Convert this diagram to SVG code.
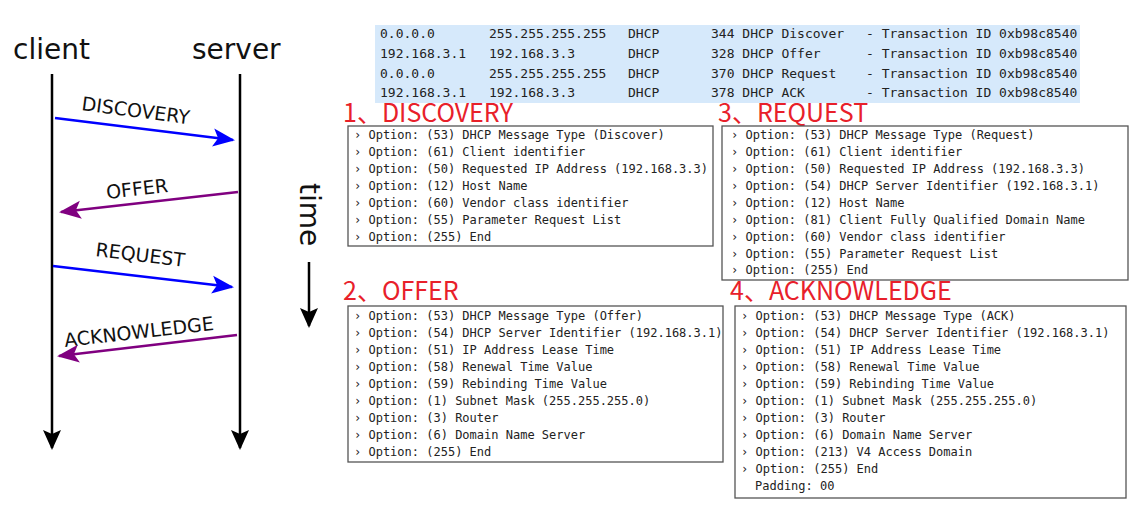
<svg xmlns="http://www.w3.org/2000/svg" width="1131" height="517" viewBox="0 0 1131 517">
<defs>
<style>
.lbl{font-family:"DejaVu Sans",sans-serif;fill:#111}
.big{font-size:28px}
.msg{font-size:19px}
.mono{font-family:"DejaVu Sans Mono",monospace;font-size:12px;fill:#222}
.tbl{font-family:"DejaVu Sans Mono",monospace;font-size:13px;fill:#222}
.hdr{font-family:"Noto Sans CJK SC","Liberation Sans",sans-serif;font-size:25px;fill:#e8202a}
.box{fill:#fff;stroke:#555;stroke-width:1.3}
</style>
<marker id="ab" markerWidth="22" markerHeight="20" refX="20" refY="10" orient="auto" markerUnits="userSpaceOnUse"><path d="M0,1 L22,10 L0,19 L5,10Z" fill="#0000ff"/></marker>
<marker id="ap" markerWidth="22" markerHeight="20" refX="20" refY="10" orient="auto" markerUnits="userSpaceOnUse"><path d="M0,1 L22,10 L0,19 L5,10Z" fill="#800080"/></marker>
<marker id="bk" markerWidth="20" markerHeight="20" refX="18" refY="10" orient="auto" markerUnits="userSpaceOnUse"><path d="M0,1 L20,10 L0,19 L4,10Z" fill="#000"/></marker>
</defs>
<rect width="1131" height="517" fill="#fff"/>
<g id="client"><text class="lbl big" x="13" y="59">client</text></g>
<g id="server"><text class="lbl big" x="192" y="59">server</text></g>
<g id="time"><text class="lbl" font-size="28" transform="translate(300,183) rotate(90)">time</text></g>
<g id="connectors" stroke-width="2.5" fill="none">
<line x1="52" y1="74" x2="52" y2="448" stroke="#000" marker-end="url(#bk)"/>
<line x1="240" y1="74" x2="240" y2="448" stroke="#000" marker-end="url(#bk)"/>
<line x1="309" y1="262" x2="309" y2="326" stroke="#000" marker-end="url(#bk)"/>
<line x1="55" y1="118" x2="233" y2="140" stroke="#0000ff" marker-end="url(#ab)"/>
<line x1="238" y1="192" x2="61" y2="212" stroke="#800080" marker-end="url(#ap)"/>
<line x1="53" y1="266" x2="232" y2="287" stroke="#0000ff" marker-end="url(#ab)"/>
<line x1="237" y1="335" x2="59" y2="356" stroke="#800080" marker-end="url(#ap)"/>
</g>
<g id="msg-labels">
<text class="lbl msg" transform="translate(81,110) rotate(7.5)">DISCOVERY</text>
<text class="lbl msg" transform="translate(107,199) rotate(-6.5)">OFFER</text>
<text class="lbl msg" transform="translate(95,256) rotate(7)">REQUEST</text>
<text class="lbl msg" transform="translate(65,347) rotate(-6.5)">ACKNOWLEDGE</text>
</g>
<g id="table">
<rect x="375" y="25" width="705" height="78" fill="#d6e9fb"/>
<g class="tbl">
<text x="380" y="38">0.0.0.0</text><text x="489" y="38">255.255.255.255</text><text x="628" y="38">DHCP</text><text x="711" y="38">344 DHCP Discover</text><text x="866" y="38">- Transaction ID 0xb98c8540</text>
<text x="380" y="58">192.168.3.1</text><text x="489" y="58">192.168.3.3</text><text x="628" y="58">DHCP</text><text x="711" y="58">328 DHCP Offer</text><text x="866" y="58">- Transaction ID 0xb98c8540</text>
<text x="380" y="78">0.0.0.0</text><text x="489" y="78">255.255.255.255</text><text x="628" y="78">DHCP</text><text x="711" y="78">370 DHCP Request</text><text x="866" y="78">- Transaction ID 0xb98c8540</text>
<text x="380" y="97">192.168.3.1</text><text x="489" y="97">192.168.3.3</text><text x="628" y="97">DHCP</text><text x="711" y="97">378 DHCP ACK</text><text x="866" y="97">- Transaction ID 0xb98c8540</text>
</g>
</g>
<g id="discovery">
<text class="hdr" x="343" y="122">1、DISCOVERY</text>
<rect class="box" x="348" y="126" width="365" height="120"/>
<g class="mono">
<text x="354" y="139">› Option: (53) DHCP Message Type (Discover)</text>
<text x="354" y="156">› Option: (61) Client identifier</text>
<text x="354" y="173">› Option: (50) Requested IP Address (192.168.3.3)</text>
<text x="354" y="190">› Option: (12) Host Name</text>
<text x="354" y="207">› Option: (60) Vendor class identifier</text>
<text x="354" y="224">› Option: (55) Parameter Request List</text>
<text x="354" y="241">› Option: (255) End</text>
</g>
</g>
<g id="request">
<text class="hdr" x="718" y="122">3、REQUEST</text>
<rect class="box" x="722" y="126" width="406" height="154"/>
<g class="mono">
<text x="731" y="139">› Option: (53) DHCP Message Type (Request)</text>
<text x="731" y="156">› Option: (61) Client identifier</text>
<text x="731" y="173">› Option: (50) Requested IP Address (192.168.3.3)</text>
<text x="731" y="190">› Option: (54) DHCP Server Identifier (192.168.3.1)</text>
<text x="731" y="207">› Option: (12) Host Name</text>
<text x="731" y="224">› Option: (81) Client Fully Qualified Domain Name</text>
<text x="731" y="241">› Option: (60) Vendor class identifier</text>
<text x="731" y="258">› Option: (55) Parameter Request List</text>
<text x="731" y="274">› Option: (255) End</text>
</g>
</g>
<g id="offer">
<text class="hdr" x="343" y="300">2、OFFER</text>
<rect class="box" x="348" y="306" width="375" height="156"/>
<g class="mono">
<text x="354" y="320">› Option: (53) DHCP Message Type (Offer)</text>
<text x="354" y="337">› Option: (54) DHCP Server Identifier (192.168.3.1)</text>
<text x="354" y="354">› Option: (51) IP Address Lease Time</text>
<text x="354" y="371">› Option: (58) Renewal Time Value</text>
<text x="354" y="388">› Option: (59) Rebinding Time Value</text>
<text x="354" y="405">› Option: (1) Subnet Mask (255.255.255.0)</text>
<text x="354" y="422">› Option: (3) Router</text>
<text x="354" y="439">› Option: (6) Domain Name Server</text>
<text x="354" y="456">› Option: (255) End</text>
</g>
</g>
<g id="ack">
<text class="hdr" x="730" y="300">4、ACKNOWLEDGE</text>
<rect class="box" x="735" y="306" width="391" height="192"/>
<g class="mono">
<text x="741" y="320">› Option: (53) DHCP Message Type (ACK)</text>
<text x="741" y="337">› Option: (54) DHCP Server Identifier (192.168.3.1)</text>
<text x="741" y="354">› Option: (51) IP Address Lease Time</text>
<text x="741" y="371">› Option: (58) Renewal Time Value</text>
<text x="741" y="388">› Option: (59) Rebinding Time Value</text>
<text x="741" y="405">› Option: (1) Subnet Mask (255.255.255.0)</text>
<text x="741" y="422">› Option: (3) Router</text>
<text x="741" y="439">› Option: (6) Domain Name Server</text>
<text x="741" y="456">› Option: (213) V4 Access Domain</text>
<text x="741" y="473">› Option: (255) End</text>
<text x="755" y="490">Padding: 00</text>
</g>
</g>
</svg>
